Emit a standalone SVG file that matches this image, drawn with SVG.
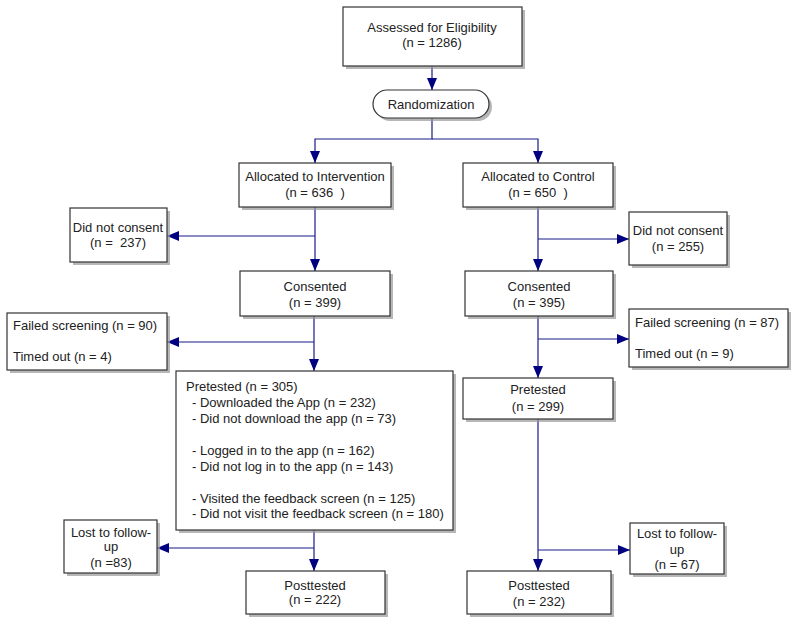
<svg xmlns="http://www.w3.org/2000/svg" width="800" height="626" viewBox="0 0 800 626">
<defs>
<style>
.box{fill:#fff;stroke:#333;stroke-width:1.2}
.sh{fill:#999;opacity:0.7}
.t{font-family:"Liberation Sans",Arial,sans-serif;font-size:13px;fill:#222}
.c{text-anchor:middle}
.ln{fill:none;stroke:#1a1a8c;stroke-width:1.2}
</style>
<marker id="ah" markerUnits="userSpaceOnUse" markerWidth="12" markerHeight="12" viewBox="0 0 12 10" refX="12" refY="5" orient="auto">
<path d="M0,0 L12,5 L0,10 z" fill="#000080"/>
</marker>
</defs>
<rect width="800" height="626" fill="#fff"/>

<g id="connectors">
<path class="ln" d="M432,66 V90" marker-end="url(#ah)"/>
<path class="ln" d="M432,118 V139 H315 V163" marker-end="url(#ah)"/>
<path class="ln" d="M432,139 H538 V163" marker-end="url(#ah)"/>
<path class="ln" d="M315,207 V271" marker-end="url(#ah)"/>
<path class="ln" d="M315,236 H167" marker-end="url(#ah)"/>
<path class="ln" d="M538,207 V271" marker-end="url(#ah)"/>
<path class="ln" d="M538,239 H629" marker-end="url(#ah)"/>
<path class="ln" d="M314,316 V371" marker-end="url(#ah)"/>
<path class="ln" d="M314,342 H167" marker-end="url(#ah)"/>
<path class="ln" d="M538,316 V378" marker-end="url(#ah)"/>
<path class="ln" d="M538,339 H629" marker-end="url(#ah)"/>
<path class="ln" d="M314,530 V571" marker-end="url(#ah)"/>
<path class="ln" d="M314,548 H157" marker-end="url(#ah)"/>
<path class="ln" d="M538,419 V571" marker-end="url(#ah)"/>
<path class="ln" d="M538,550 H630" marker-end="url(#ah)"/>
</g>

<g id="assessed">
<rect class="sh" x="346" y="10" width="179" height="59"/>
<rect class="box" x="343" y="7" width="179" height="59"/>
<text class="t c" x="432" y="32">Assessed for Eligibility</text>
<text class="t c" x="432" y="47">(n = 1286)</text>
</g>

<g id="randomization">
<rect class="sh" x="376" y="93" width="116" height="28" rx="14"/>
<rect class="box" x="373" y="90" width="116" height="28" rx="14"/>
<text class="t c" x="431" y="109">Randomization</text>
</g>

<g id="alloc-int">
<rect class="sh" x="242" y="166" width="152" height="44"/>
<rect class="box" x="239" y="163" width="152" height="44"/>
<text class="t c" x="315" y="181">Allocated to Intervention</text>
<text class="t c" x="315" y="197" xml:space="preserve">(n = 636  )</text>
</g>

<g id="alloc-ctl">
<rect class="sh" x="466" y="166" width="150" height="44"/>
<rect class="box" x="463" y="163" width="150" height="44"/>
<text class="t c" x="538" y="181">Allocated to Control</text>
<text class="t c" x="538" y="197" xml:space="preserve">(n = 650  )</text>
</g>

<g id="noconsent-int">
<rect class="sh" x="73" y="211" width="97" height="54"/>
<rect class="box" x="70" y="208" width="97" height="54"/>
<text class="t c" x="118" y="232">Did not consent</text>
<text class="t c" x="118" y="247" xml:space="preserve">(n =  237)</text>
</g>

<g id="noconsent-ctl">
<rect class="sh" x="632" y="215" width="98" height="53"/>
<rect class="box" x="629" y="212" width="98" height="53"/>
<text class="t c" x="678" y="235">Did not consent</text>
<text class="t c" x="678" y="251">(n = 255)</text>
</g>

<g id="consented-int">
<rect class="sh" x="243" y="274" width="150" height="45"/>
<rect class="box" x="240" y="271" width="150" height="45"/>
<text class="t c" x="315" y="291">Consented</text>
<text class="t c" x="315" y="307">(n = 399)</text>
</g>

<g id="consented-ctl">
<rect class="sh" x="468" y="274" width="148" height="45"/>
<rect class="box" x="465" y="271" width="148" height="45"/>
<text class="t c" x="539" y="291">Consented</text>
<text class="t c" x="539" y="307">(n = 395)</text>
</g>

<g id="failed-int">
<rect class="sh" x="10" y="316" width="160" height="57"/>
<rect class="box" x="7" y="313" width="160" height="57"/>
<text class="t" x="13" y="330">Failed screening (n = 90)</text>
<text class="t" x="13" y="361">Timed out (n = 4)</text>
</g>

<g id="failed-ctl">
<rect class="sh" x="632" y="312" width="159" height="58"/>
<rect class="box" x="629" y="309" width="159" height="58"/>
<text class="t" x="635" y="327">Failed screening (n = 87)</text>
<text class="t" x="635" y="358">Timed out (n = 9)</text>
</g>

<g id="pretested-int">
<rect class="sh" x="179" y="374" width="277" height="159"/>
<rect class="box" x="176" y="371" width="277" height="159"/>
<text class="t" x="186" y="391">Pretested (n = 305)</text>
<text class="t" x="192" y="407">- Downloaded the App (n = 232)</text>
<text class="t" x="192" y="423">- Did not download the app (n = 73)</text>
<text class="t" x="192" y="455">- Logged in to the app (n = 162)</text>
<text class="t" x="192" y="471">- Did not log in to the app (n = 143)</text>
<text class="t" x="192" y="503">- Visited the feedback screen (n = 125)</text>
<text class="t" x="192" y="518">- Did not visit the feedback screen (n = 180)</text>
</g>

<g id="pretested-ctl">
<rect class="sh" x="466" y="381" width="150" height="41"/>
<rect class="box" x="463" y="378" width="150" height="41"/>
<text class="t c" x="538" y="394">Pretested</text>
<text class="t c" x="538" y="411">(n = 299)</text>
</g>

<g id="lost-int">
<rect class="sh" x="67" y="523" width="93" height="53"/>
<rect class="box" x="64" y="520" width="93" height="53"/>
<text class="t c" x="111" y="537">Lost to follow-</text>
<text class="t c" x="111" y="551">up</text>
<text class="t c" x="111" y="567">(n =83)</text>
</g>

<g id="lost-ctl">
<rect class="sh" x="633" y="526" width="94" height="51"/>
<rect class="box" x="630" y="523" width="94" height="51"/>
<text class="t c" x="677" y="538">Lost to follow-</text>
<text class="t c" x="677" y="554">up</text>
<text class="t c" x="677" y="569">(n = 67)</text>
</g>

<g id="posttested-int">
<rect class="sh" x="249" y="574" width="139" height="43"/>
<rect class="box" x="246" y="571" width="139" height="43"/>
<text class="t c" x="315" y="590">Posttested</text>
<text class="t c" x="315" y="604">(n = 222)</text>
</g>

<g id="posttested-ctl">
<rect class="sh" x="470" y="574" width="144" height="43"/>
<rect class="box" x="467" y="571" width="144" height="43"/>
<text class="t c" x="539" y="590">Posttested</text>
<text class="t c" x="539" y="606">(n = 232)</text>
</g>
</svg>
